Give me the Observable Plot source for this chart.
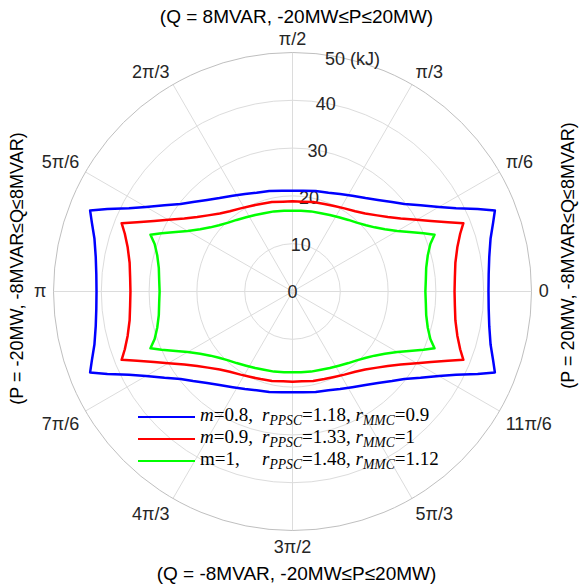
<!DOCTYPE html>
<html><head><meta charset="utf-8">
<script src="https://cdn.jsdelivr.net/npm/d3@7"></script>
<script src="https://cdn.jsdelivr.net/npm/@observablehq/plot@0.6"></script>
<style>
body{margin:0;background:#fff;}
#wrap{position:relative;width:580px;height:584px;overflow:hidden;}
#legend{position:absolute;left:138px;top:404px;font-family:"Liberation Serif","Times New Roman",serif;font-size:19px;color:#000;}
.row{height:22px;line-height:22px;white-space:nowrap;}
.sw{display:inline-block;width:57px;height:0;border-top:2.5px solid;margin-right:5px;vertical-align:middle;}
.mpart{display:inline-block;width:62px;}
sub{font-size:72%;vertical-align:-0.3em;line-height:0;}
</style></head><body><div id="wrap"></div>
<script>
// angle (degrees) of each sample along the closed curves
const angles = [
  0,5,10,15,19,21.8,24,27,30,34,38,42,47,52,58,64,70,77,84,90,
  96,103,110,116,122,128,133,138,142,146,150,153,156,158.2,161,165,170,175,180,
  185,190,195,199,201.8,204,207,210,214,218,222,227,232,238,244,250,257,264,270,
  276,283,290,296,302,308,313,318,322,326,330,333,336,338.2,341,345,350,355,360];
// energy (kJ)
const rBlue = [
  41.0,41.2,41.8,42.9,44.4,45.6,42.4,38.4,35.4,32.3,29.7,28.0,26.2,24.8,23.6,22.7,22.0,21.6,21.2,21.1,
  21.2,21.6,22.0,22.7,23.6,24.8,26.2,28.0,29.7,32.3,35.4,38.4,42.4,45.6,44.4,42.9,41.8,41.2,41.0,
  41.2,41.8,42.9,44.4,45.6,42.4,38.4,35.4,32.3,29.7,28.0,26.2,24.8,23.6,22.7,22.0,21.6,21.2,21.1,
  21.2,21.6,22.0,22.7,23.6,24.8,26.2,28.0,29.7,32.3,35.4,38.4,42.4,45.6,44.4,42.9,41.8,41.2,41.0];
const rRed = [
  33.9,34.1,34.6,35.7,37.1,38.5,35.6,32.5,30.0,27.3,25.3,23.8,22.3,21.3,20.5,19.9,19.5,19.2,18.9,18.9,
  18.9,19.2,19.5,19.9,20.5,21.3,22.3,23.8,25.3,27.3,30.0,32.5,35.6,38.5,37.1,35.7,34.6,34.1,33.9,
  34.1,34.6,35.7,37.1,38.5,35.6,32.5,30.0,27.3,25.3,23.8,22.3,21.3,20.5,19.9,19.5,19.2,18.9,18.9,
  18.9,19.2,19.5,19.9,20.5,21.3,22.3,23.8,25.3,27.3,30.0,32.5,35.6,38.5,37.1,35.7,34.6,34.1,33.9];
const rGreen = [
  27.8,28.0,28.4,29.3,30.5,32.0,30.0,27.4,25.3,23.3,21.8,20.7,19.7,19.0,18.3,17.8,17.4,17.2,17.0,16.9,
  17.0,17.2,17.4,17.8,18.3,19.0,19.7,20.7,21.8,23.3,25.3,27.4,30.0,32.0,30.5,29.3,28.4,28.0,27.8,
  28.0,28.4,29.3,30.5,32.0,30.0,27.4,25.3,23.3,21.8,20.7,19.7,19.0,18.3,17.8,17.4,17.2,17.0,16.9,
  17.0,17.2,17.4,17.8,18.3,19.0,19.7,20.7,21.8,23.3,25.3,27.4,30.0,32.0,30.5,29.3,28.4,28.0,27.8];

const seriesNames = ["m=0.8", "m=0.9", "m=1"];
const seriesColors = ["#0000ff", "#ff0000", "#00ff00"];
const legendHTML = [
  '<span class="mpart"><i>m</i>=0.8,</span><span><i>r</i><sub><i>PPSC</i></sub>=1.18, <i>r</i><sub><i>MMC</i></sub>=0.9</span>',
  '<span class="mpart"><i>m</i>=0.9,</span><span><i>r</i><sub><i>PPSC</i></sub>=1.33, <i>r</i><sub><i>MMC</i></sub>=1</span>',
  '<span class="mpart">m=1,</span><span><i>r</i><sub><i>PPSC</i></sub>=1.48, <i>r</i><sub><i>MMC</i></sub>=1.12</span>'];

const thetaTicks = [0,30,60,90,120,150,180,210,240,270,300,330];
const thetaLabels = ["0","π/6","π/3","π/2","2π/3","5π/6","π","7π/6","4π/3","3π/2","5π/3","11π/6"];
const rTicks = [0,10,20,30,40];
const rTickLabels = ["0","10","20","30","40"];
const rMax = 50;
const rMaxLabel = "50 (kJ)";
const gridRings = [10,20,30,40];
const rAxisAngle = 80;

const titleTop = "(Q = 8MVAR, -20MW≤P≤20MW)";
const titleBottom = "(Q = -8MVAR, -20MW≤P≤20MW)";
const titleLeft = "(P = -20MW, -8MVAR≤Q≤8MVAR)";
const titleRight = "(P = 20MW, -8MVAR≤Q≤8MVAR)";

const rad = d => d * Math.PI / 180;
const curves = [rBlue, rRed, rGreen];
const rows = curves.flatMap((rs, k) => angles.map((a, i) => ({series: seriesNames[k], a, r: rs[i]})));

const labR = 51.5;
const tc = "#262626";
const anchorX = a => { const c = Math.cos(rad(a)); return c > 0.01 ? "start" : c < -0.01 ? "end" : "middle"; };
const anchorY = a => { const s = Math.sin(rad(a)); return s > 0.01 ? "bottom" : s < -0.01 ? "top" : "middle"; };

const labelMarks = ["start","end","middle"].flatMap(ta => ["top","bottom","middle"].map(la =>
  Plot.text(thetaTicks.filter(a => anchorX(a) === ta && anchorY(a) === la), {
    x: a => labR * Math.cos(rad(a)), y: a => labR * Math.sin(rad(a)),
    text: a => thetaLabels[thetaTicks.indexOf(a)],
    textAnchor: ta, lineAnchor: la, fontSize: 18, fill: tc,
    dy: la === "top" ? 3 : 0
  })));

const chart = Plot.plot({
  width: 580, height: 584,
  marginTop: 52, marginBottom: 54, marginLeft: 53, marginRight: 49,
  x: {domain: [-50, 50], range: [53, 531], axis: null},
  y: {domain: [-50, 50], range: [530, 52], axis: null},
  r: {type: "linear", domain: [0, 50], range: [0, 239]},
  color: {domain: seriesNames, range: seriesColors},
  style: {fontFamily: "'Liberation Sans', Arial, Helvetica, sans-serif", background: "#fff"},
  marks: [
    Plot.dot(gridRings, {x: () => 0, y: () => 0, r: d => d, stroke: "#dcdcdc", fill: "none", strokeWidth: 1}),
    Plot.link(thetaTicks, {x1: () => 0, y1: () => 0, x2: a => rMax * Math.cos(rad(a)), y2: a => rMax * Math.sin(rad(a)), stroke: "#dcdcdc", strokeWidth: 1}),
    Plot.dot([rMax], {x: () => 0, y: () => 0, r: d => d, stroke: "#bfbfbf", fill: "none", strokeWidth: 1}),
    Plot.text(rTicks, {x: d => d * Math.cos(rad(rAxisAngle)), y: d => d * Math.sin(rad(rAxisAngle)), text: (d, i) => rTickLabels[i], fontSize: 18, fill: tc, dy: 1}),
    Plot.text([rMax], {x: d => d * Math.cos(rad(rAxisAngle)), y: d => d * Math.sin(rad(rAxisAngle)), text: () => rMaxLabel, textAnchor: "start", dx: -9, dy: 3, fontSize: 18, fill: tc}),
    ...labelMarks,
    Plot.line(rows, {x: d => d.r * Math.cos(rad(d.a)), y: d => d.r * Math.sin(rad(d.a)), z: "series", stroke: "series", strokeWidth: 2.5, strokeLinejoin: "round", curve: "linear"}),
    Plot.text([titleTop], {frameAnchor: "top", text: d => d, textAnchor: "middle", lineAnchor: "middle", dx: 4, dy: -36, fontSize: 19, fill: "#000"}),
    Plot.text([titleBottom], {frameAnchor: "bottom", text: d => d, textAnchor: "middle", lineAnchor: "middle", dx: 4, dy: 43, fontSize: 19, fill: "#000"}),
    Plot.text([titleLeft], {frameAnchor: "left", text: d => d, textAnchor: "middle", lineAnchor: "middle", dx: -36, dy: -23, rotate: -90, fontSize: 18, fill: "#000"}),
    Plot.text([titleRight], {frameAnchor: "right", text: d => d, textAnchor: "middle", lineAnchor: "middle", dx: 37, dy: -36, rotate: -90, fontSize: 18, fill: "#000"})
  ]
});
const wrap = document.getElementById("wrap");
wrap.appendChild(chart);
const leg = document.createElement("div");
leg.id = "legend";
seriesNames.forEach((n, i) => {
  const row = document.createElement("div");
  row.className = "row";
  row.innerHTML = `<span class="sw" style="border-top-color:${seriesColors[i]}"></span>` + legendHTML[i];
  leg.appendChild(row);
});
wrap.appendChild(leg);
</script></body></html>
